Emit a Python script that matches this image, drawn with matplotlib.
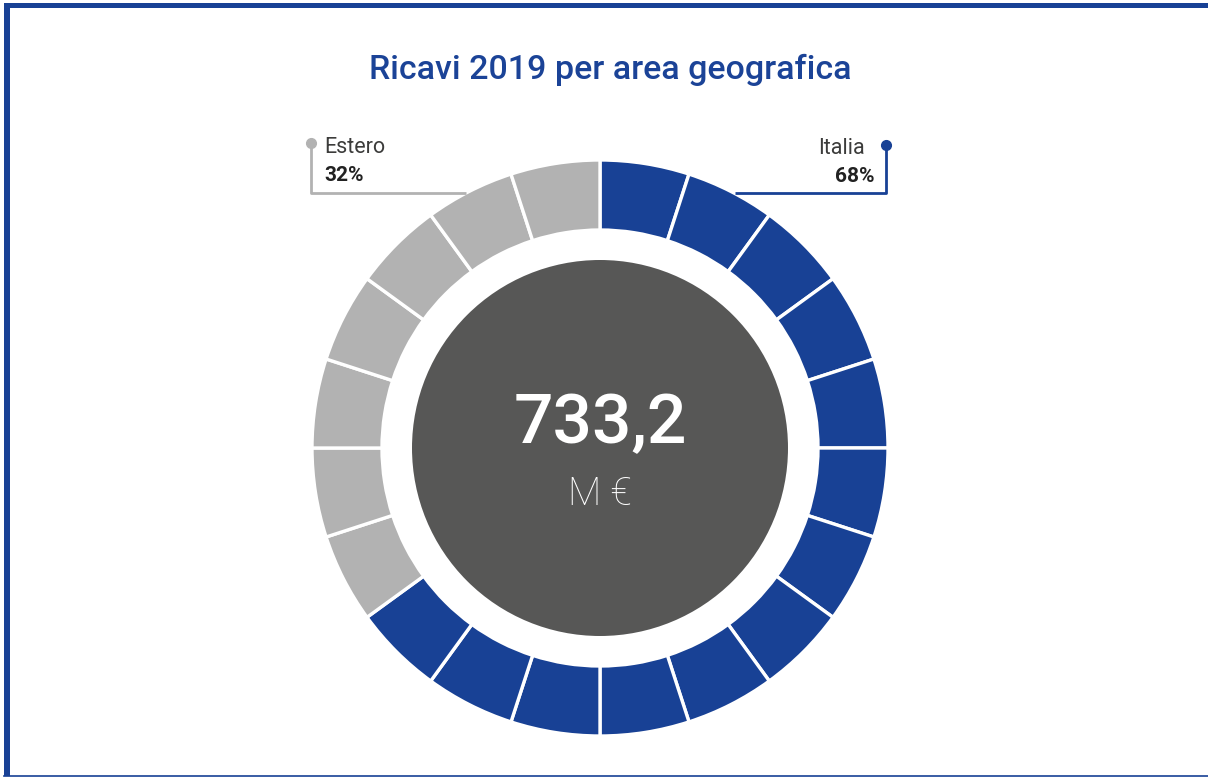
import matplotlib
matplotlib.use("Agg")
from matplotlib import pyplot as plt
from matplotlib.patches import Circle, Rectangle

# data
areas = ["Italia", "Estero"]
area_pct = ["68%", "32%"]
segments_per_area = [13, 7]
total_value = "733,2"
total_unit = "M €"
title = "Ricavi 2019 per area geografica"

BLUE = "#184195"
GREY = "#B2B2B2"
DARK = "#575756"
TEXT = "#3C3C3B"

W, H = 1208, 778


def py(y):
    # pixel row (from top) -> data y (from bottom)
    return H - y


fig = plt.figure(figsize=(W / 100, H / 100), dpi=100)
ax = fig.add_axes([0, 0, 1, 1])

# ring
cx, cy = 600, py(448)
colors = [BLUE] * segments_per_area[0] + [GREY] * segments_per_area[1]
ax.pie([1] * sum(segments_per_area), colors=colors, startangle=90, counterclock=False,
       center=(cx, cy), radius=288, frame=True,
       wedgeprops=dict(width=70, edgecolor="white", linewidth=2.4))
ax.set_xlim(0, W)
ax.set_ylim(0, H)
ax.set_aspect("equal")
ax.axis("off")

# frame
ax.add_patch(Rectangle((4, py(776)), 6, 773, color=BLUE, lw=0))
ax.add_patch(Rectangle((4, py(8)), W - 4, 5, color=BLUE, lw=0))
ax.plot([4, W], [py(775.5), py(775.5)], color=BLUE, lw=1.2)

ax.add_patch(Circle((cx, cy), 188, color=DARK, lw=0))

ax.text(cx, py(424), total_value, ha="center", va="center", color="white",
        fontsize=50, family="Roboto", fontweight="medium")
ax.text(cx, py(494), total_unit, ha="center", va="center", color="white",
        fontsize=28, family="Roboto", fontweight="light")

ax.text(610, py(70), title, ha="center", va="center", color="#1B4397",
        fontsize=24.5, family="Roboto", fontweight="medium")

# leader: Estero
ax.plot([311, 311, 466], [py(143), py(193), py(193)], color=GREY, lw=2,
        solid_capstyle="butt")
ax.plot([311], [py(143)], "o", color=GREY, ms=7)
ax.text(324, py(147), areas[1], ha="left", va="center", color=TEXT,
        fontsize=15.5, family="Roboto", fontweight="normal")
ax.text(324, py(175), area_pct[1], ha="left", va="center", color="#222222",
        fontsize=15, family="Roboto", fontweight="bold")

# leader: Italia
ax.plot([886, 886, 735], [py(145), py(193), py(193)], color=BLUE, lw=2,
        solid_capstyle="butt")
ax.plot([886], [py(145)], "o", color=BLUE, ms=7)
ax.text(865, py(148), areas[0], ha="right", va="center", color=TEXT,
        fontsize=15.5, family="Roboto", fontweight="normal")
ax.text(874, py(176), area_pct[0], ha="right", va="center", color="#222222",
        fontsize=15, family="Roboto", fontweight="bold")

fig.savefig("out.png", dpi=100, facecolor="white")
